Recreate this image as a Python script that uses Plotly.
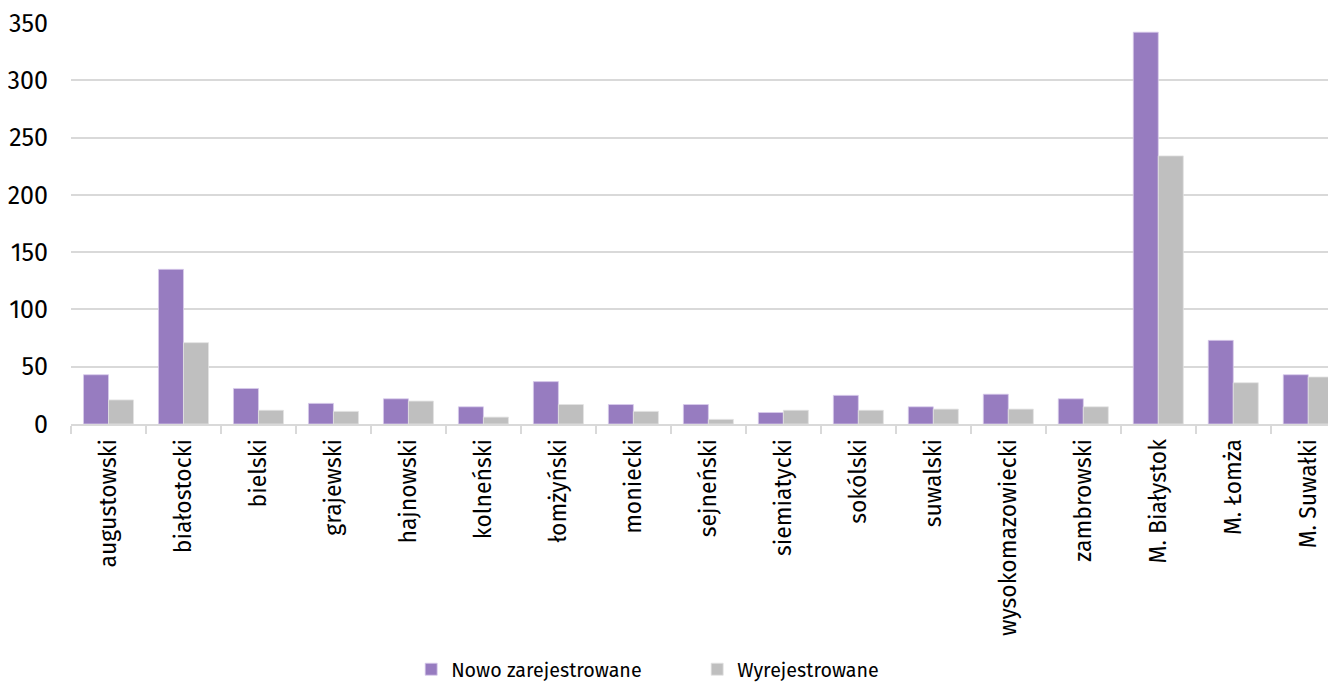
import plotly.graph_objects as go

categories = ["augustowski", "białostocki", "bielski", "grajewski", "hajnowski", "kolneński",
              "łomżyński", "moniecki", "sejneński", "siemiatycki", "sokólski", "suwalski",
              "wysokomazowiecki", "zambrowski", "M. Białystok", "M. Łomża", "M. Suwałki"]
nowo = [43, 135, 31, 18, 22, 15, 37, 17, 17, 10, 25, 15, 26, 22, 342, 73, 43]
wyrej = [21, 71, 12, 11, 20, 6, 17, 11, 4, 12, 12, 13, 13, 15, 234, 36, 41]
y_ticks = [0, 50, 100, 150, 200, 250, 300, 350]

FONT = "Fira Sans, Roboto, Noto Sans, sans-serif"

fig = go.Figure()
fig.add_trace(go.Bar(name="Nowo zarejestrowane", x=categories, y=nowo,
                     marker=dict(color="#977cc0", line=dict(color="#d8cceb", width=0.8))))
fig.add_trace(go.Bar(name="Wyrejestrowane", x=categories, y=wyrej,
                     marker=dict(color="#bfbfbf", line=dict(color="#e2e2e2", width=0.8))))

fig.update_layout(
    width=1328, height=676,
    margin=dict(l=63, r=0, t=15, b=260, autoexpand=False),
    paper_bgcolor="white", plot_bgcolor="white",
    barmode="group", bargap=0.333, bargroupgap=0,
    font=dict(family=FONT, size=20, color="#000000"),
    showlegend=True,
    legend=dict(orientation="h", x=0.495, xanchor="center", y=-0.612, yanchor="middle",
                font=dict(size=19.7), entrywidth=241, entrywidthmode="pixels",
                traceorder="normal"),
    xaxis=dict(range=[-0.5, 16.37], tickangle=-90, tickson="boundaries", ticks="outside",
               ticklen=8, tickcolor="#d9d9d9", tickwidth=1.5,
               showline=True, linecolor="#d9d9d9", linewidth=1.5,
               ticklabelstandoff=4,
               tickfont=dict(size=23), fixedrange=True),
    yaxis=dict(range=[0, 350], tickvals=y_ticks, showgrid=True, gridcolor="#d9d9d9",
               gridwidth=1.5, zeroline=False, ticks="", ticklabelstandoff=22,
               tickfont=dict(size=25), fixedrange=True),
)

fig.write_html("out.html")
